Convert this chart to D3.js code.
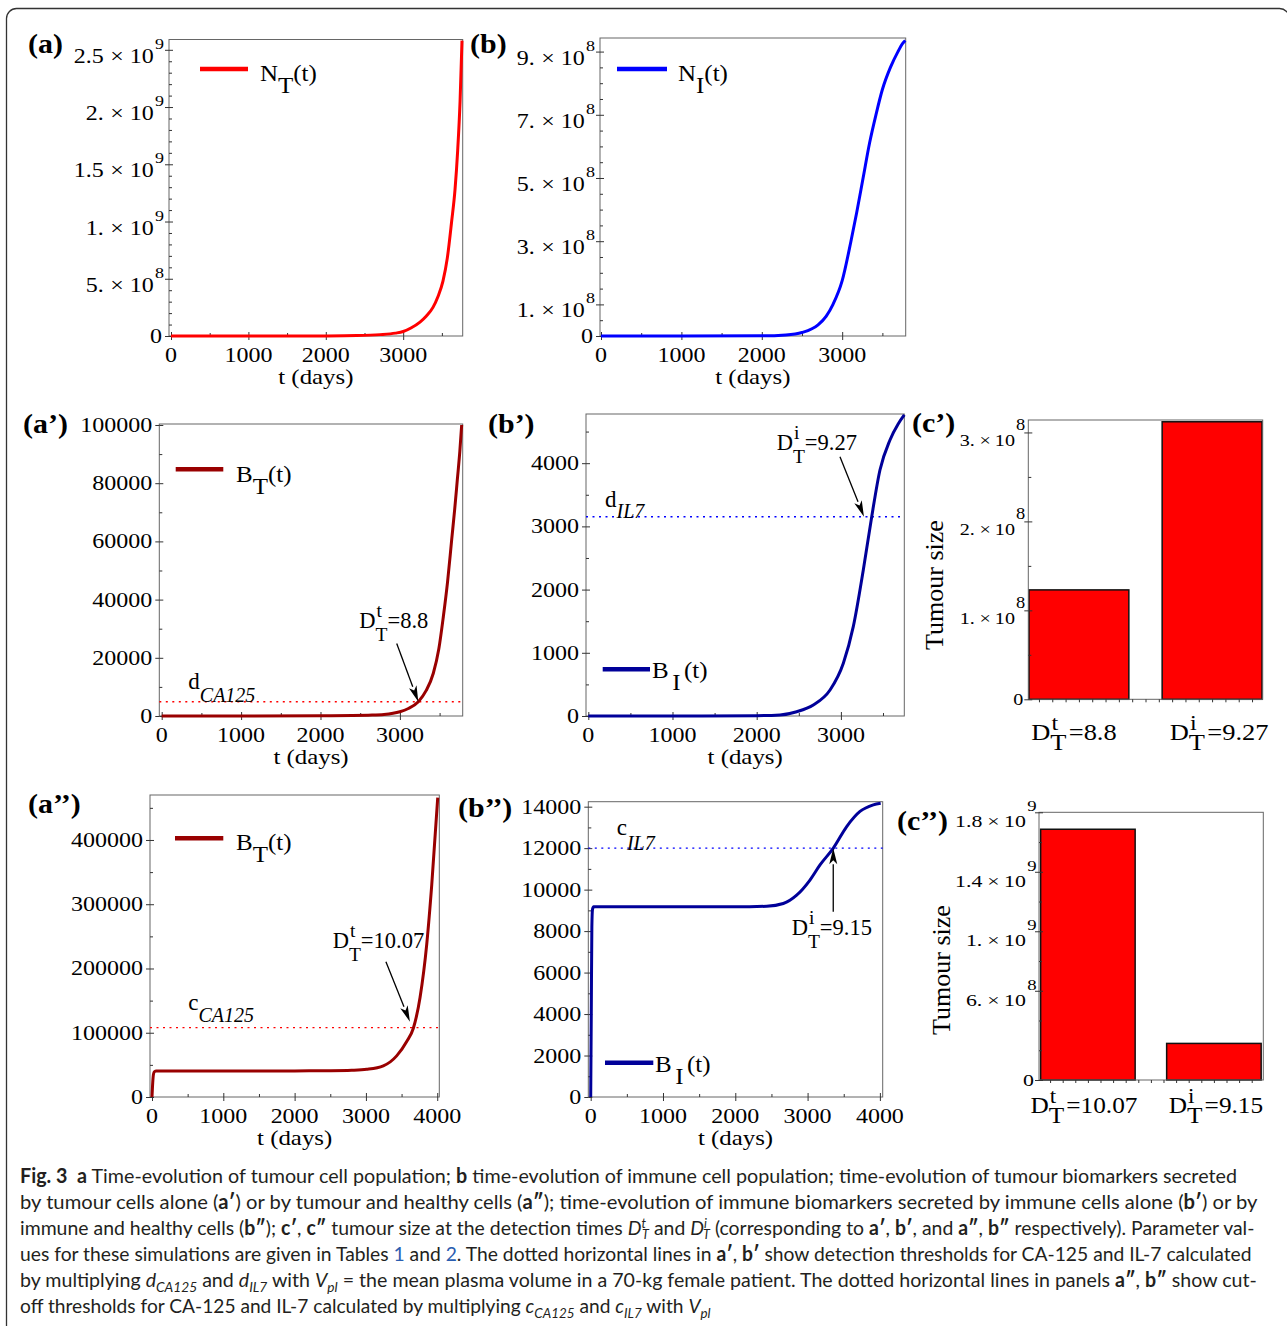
<!DOCTYPE html>
<html>
<head>
<meta charset="utf-8">
<script src="https://cdn.jsdelivr.net/npm/d3@7"></script>
<style>
  body { margin: 0; background: #fff; }
  svg { display: block; }
  text { white-space: pre; }
</style>
</head>
<body>
<div id="fig"></div>
<script>
var W = 1287, H = 1326;
var SERIF = "'Liberation Serif','Times New Roman',serif";
var SANS = "Lato,'Open Sans','DejaVu Sans Condensed',sans-serif";

// ---- values ----
// (a) tumour cells N_T(t)
var tA = [0, 500, 1000, 1500, 2000, 2400, 2700, 2900, 3000, 3100, 3217, 3300, 3385, 3450, 3514, 3570, 3626, 3670, 3704, 3735, 3760];
var NT = [0, 0, 0, 0, 1e6, 4e6, 1.2e7, 2.5e7, 3.9e7, 7.0e7, 1.22e8, 1.75e8, 2.5e8, 3.45e8, 4.8e8, 6.8e8, 1.0e9, 1.28e9, 1.62e9, 2.05e9, 2.58e9];
// (b) immune cells N_I(t)
var tB = [0, 1000, 2000, 2300, 2500, 2700, 2800, 2886, 3000, 3109, 3180, 3260, 3340, 3420, 3500, 3600, 3694, 3750, 3785];
var NI = [0, 0, 5e5, 3.3e6, 1.1e7, 3.5e7, 6.2e7, 1.0e8, 1.75e8, 3.0e8, 3.9e8, 5.0e8, 6.1e8, 7.0e8, 7.8e8, 8.5e8, 9.0e8, 9.25e8, 9.35e8];
// (a') tumour biomarker B_T(t), tumour cells alone
var tA1 = [0, 1000, 2000, 2400, 2600, 2800, 3000, 3100, 3232, 3330, 3421, 3490, 3547, 3600, 3652, 3690, 3723, 3755, 3778];
var BT1 = [0, 0, 50, 150, 300, 550, 1480, 2500, 4900, 8700, 14700, 23000, 34100, 46000, 60500, 71000, 81100, 91000, 100000];
// (b') immune biomarker B_I(t), immune cells alone
var tB1 = [0, 1000, 2000, 2277, 2475, 2672, 2871, 3029, 3147, 3266, 3366, 3464, 3583, 3680, 3753];
var BI1 = [0, 0, 5, 16, 68, 174, 411, 834, 1413, 2310, 3153, 3892, 4367, 4620, 4763];
// (a'') tumour biomarker with healthy cells
var tA2 = [0, 10, 20, 35, 60, 1000, 2000, 2500, 2800, 3011, 3244, 3431, 3572, 3665, 3759, 3853, 3923, 4007];
var BT2 = [0, 22000, 35000, 39500, 40500, 40500, 40600, 40900, 41600, 43100, 48500, 64000, 86500, 107000, 155000, 238000, 330000, 466000];
// (b'') immune biomarker with healthy cells
var tB2 = [0, 8, 16, 25, 40, 1000, 2000, 2434, 2664, 2849, 3033, 3172, 3356, 3541, 3725, 3909, 4011];
var BI2 = [0, 4000, 8200, 9050, 9170, 9170, 9170, 9200, 9330, 9730, 10460, 11190, 12000, 13040, 13770, 14090, 14170];

// thresholds
var dCA125 = 4900, dIL7 = 3153, cCA125 = 108000, cIL7 = 12000;

// tumour size at detection times
var c1Sup = ["t", "i"], c1Val = ["8.8", "9.27"], c1Size = [1.23e8, 3.12e8];
var c2Sup = ["t", "i"], c2Val = ["10.07", "9.15"], c2Size = [1.686e9, 0.246e9];

// tick values / labels
var xTicks3 = [0, 1000, 2000, 3000], xTicks4 = [0, 1000, 2000, 3000, 4000];
var aYTicks = [0, 5e8, 1e9, 1.5e9, 2e9, 2.5e9];
var aYLabels = ["0", "5.|8", "1.|9", "1.5|9", "2.|9", "2.5|9"];
var bYTicks = [0, 1e8, 3e8, 5e8, 7e8, 9e8];
var bYLabels = ["0", "1.|8", "3.|8", "5.|8", "7.|8", "9.|8"];
var a1YTicks = [0, 20000, 40000, 60000, 80000, 100000];
var b1YTicks = [0, 1000, 2000, 3000, 4000];
var a2YTicks = [0, 100000, 200000, 300000, 400000];
var b2YTicks = [0, 2000, 4000, 6000, 8000, 10000, 12000, 14000];
var c1YTicks = [0, 1e8, 2e8, 3e8];
var c1YLabels = ["0", "1.|8", "2.|8", "3.|8"];
var c2YTicks = [0, 6e8, 1e9, 1.4e9, 1.8e9];
var c2YLabels = ["0", "6.|8", "1.|9", "1.4|9", "1.8|9"];

var svg = d3.select("#fig").append("svg")
    .attr("width", W)
    .attr("height", H);

// text with sub/superscript parts
function rich(g, x, y, parts, o) {
    o = o || {};
    var t = g.append("text")
        .attr("transform", `translate(${x},${y}) scale(${o.sx || 1},1)` + (o.rot ? ` rotate(${o.rot})` : ""))
        .attr("font-family", o.family || SERIF)
        .attr("font-size", o.size || 20)
        .attr("text-anchor", o.anchor || "start")
        .attr("fill", o.fill || "#000");
    if (o.weight) t.attr("font-weight", o.weight);
    var cur = 0;
    parts.forEach(function (p) {
        if (typeof p === "string") p = { t: p };
        var off = p.off || 0;
        var s = t.append("tspan").text(p.t).attr("dy", off - cur);
        cur = off;
        if (p.dx) s.attr("dx", p.dx);
        if (p.size) s.attr("font-size", p.size);
        if (p.it) s.attr("font-style", "italic");
        if (p.b) s.attr("font-weight", "bold");
        if (p.fill) s.attr("fill", p.fill);
    });
    return t;
}

function tickMarks(g, axisFn, scale, vals, size, pos) {
    var a = g.append("g")
        .attr("transform", axisFn === d3.axisLeft ? `translate(${pos},0)` : `translate(0,${pos})`)
        .call(axisFn(scale).tickValues(vals).tickSizeInner(size).tickSizeOuter(0).tickFormat(""));
    a.select(".domain").remove();
    a.selectAll("line").attr("stroke", "#333");
}

// "m|e" -> m × 10^e
function yLabel(g, x, y, lab, o) {
    var s = lab.split("|");
    if (s.length === 1) {
        rich(g, x - o.gap0, y + o.off0, [s[0]], { size: o.size, sx: o.sx, anchor: "end" });
    } else {
        rich(g, x - o.gap, y + o.off, [s[0], { t: "\u00d7", dx: o.g1 }, { t: "10", dx: o.g2 },
            { t: s[1], off: -o.raise, size: o.supSize, dx: 1 }],
            { size: o.size, sx: o.sx, anchor: "end" });
    }
}

function arrow(g, x1, y1, x2, y2) {
    var ang = Math.atan2(y2 - y1, x2 - x1), L = 16, w = 4;
    var bx = x2 - L * Math.cos(ang), by = y2 - L * Math.sin(ang);
    g.append("line").attr("x1", x1).attr("y1", y1).attr("x2", bx).attr("y2", by)
        .attr("stroke", "#000").attr("stroke-width", 1.3);
    var px = -Math.sin(ang) * w, py = Math.cos(ang) * w;
    g.append("path")
        .attr("d", `M${x2},${y2}L${bx + px},${by + py}L${bx + 4 * Math.cos(ang)},${by + 4 * Math.sin(ang)}L${bx - px},${by - py}Z`)
        .attr("fill", "#000");
}

// D with stacked sup/sub, then "=value"
function dtParts(sup, val, supSize, subSize, supOff, subOff, gapEq) {
    return ["D", { t: sup, off: supOff, size: supSize, dx: 1 },
        { t: "T", off: subOff, size: subSize, dx: -supSize * 0.278 - 1 },
        { t: "=" + val, dx: gapEq || 0 }];
}

function linePanel(p) {
    var g = svg.append("g");
    var x = d3.scaleLinear().domain([0, p.xmax]).range([p.x0, p.r]);
    var y = d3.scaleLinear().domain([0, p.ymax]).range([p.b, p.t]);

    g.append("rect").attr("x", p.l).attr("y", p.t)
        .attr("width", p.r - p.l).attr("height", p.b - p.t)
        .attr("fill", "none").attr("stroke", "#666").attr("stroke-width", 1);

    tickMarks(g, d3.axisBottom, x, p.xTicks, 4, p.b);
    tickMarks(g, d3.axisBottom, x, p.xTicks, -4, p.b);
    tickMarks(g, d3.axisBottom, x, p.xMinor, -3, p.b);
    tickMarks(g, d3.axisLeft, y, p.yTicks, 4, p.l);
    tickMarks(g, d3.axisLeft, y, p.yTicks, -4, p.l);
    tickMarks(g, d3.axisLeft, y, p.yMinor, -3, p.l);

    p.xTicks.forEach(function (v) {
        rich(g, x(v), p.b + 25.5, [String(v)], { size: 20, sx: 1.2, anchor: "middle" });
    });
    p.yTicks.forEach(function (v, i) {
        var lab = p.yLabels ? p.yLabels[i] : String(v);
        yLabel(g, p.l, y(v), lab, { size: 20, sx: 1.2, gap0: 7, off0: 7, gap: 5, off: 13, raise: 14, supSize: 15, g1: 5.5, g2: 5 });
    });
    rich(g, (p.l + p.r) / 2, p.b + 48, ["t (days)"], { size: 22, sx: 1.13, anchor: "middle" });

    if (p.thr !== undefined) {
        g.append("line").attr("x1", p.l).attr("x2", p.r)
            .attr("y1", y(p.thr)).attr("y2", y(p.thr))
            .attr("stroke", p.thrColor).attr("stroke-width", 1.4)
            .attr("stroke-dasharray", "2,4.5");
        rich(g, p.thrLab.x, p.thrLab.y, [p.thrLab.main, { t: p.thrLab.sub, off: p.thrLab.off, it: true, size: 20 }], { size: 23 });
    }

    var line = d3.line().x(d => x(d[0])).y(d => y(d[1])).curve(d3.curveMonotoneX);
    g.append("path").datum(d3.zip(p.tv, p.yv))
        .attr("d", line)
        .attr("fill", "none").attr("stroke", p.color).attr("stroke-width", 3);

    // legend
    g.append("line").attr("x1", p.leg.x1).attr("x2", p.leg.x2)
        .attr("y1", p.leg.y).attr("y2", p.leg.y)
        .attr("stroke", p.color).attr("stroke-width", 4.5);
    rich(g, p.leg.tx, p.leg.ty, [p.leg.main, { t: p.leg.sub, off: 12, dx: p.leg.sdx || 0 }, { t: "(t)", dx: p.leg.pdx || 0 }],
        { size: 24, sx: 1.04 });

    // detection-time annotation
    if (p.ann) {
        var tx = x(p.ann.t), ty = y(p.ann.v);
        arrow(g, tx + p.ann.dx, ty + p.ann.dy, tx, ty);
        rich(g, p.ann.lx, p.ann.ly, dtParts(p.ann.sup, p.ann.val, 19.5, 19.5, -11, 13), { size: 22.5 });
    }

    rich(g, p.title.x, p.title.y, [p.title.t], { size: 28, sx: 1.07, weight: "bold" });
}

function barPanel(p) {
    var g = svg.append("g");
    var x = d3.scaleLinear().domain(p.xd).range([p.l, p.r]);
    var y = d3.scaleLinear().domain([0, p.ymax]).range([p.b, p.t]);

    g.selectAll("rect.bar").data(p.vals).enter().append("rect")
        .attr("class", "bar")
        .attr("x", (d, i) => x(i + 1 - 0.375))
        .attr("width", x(1.375) - x(0.625))
        .attr("y", d => y(d))
        .attr("height", d => p.b - y(d))
        .attr("fill", "#ff0000").attr("stroke", "#111").attr("stroke-width", 1.5);

    g.append("rect").attr("x", p.l).attr("y", p.t)
        .attr("width", p.r - p.l).attr("height", p.b - p.t)
        .attr("fill", "none").attr("stroke", "#666").attr("stroke-width", 1);

    tickMarks(g, d3.axisBottom, x, d3.range(0.7, 2.35, 0.1), 3, p.b);
    tickMarks(g, d3.axisLeft, y, p.yTicks, 4, p.l);
    tickMarks(g, d3.axisLeft, y, p.yTicks, -4, p.l);
    tickMarks(g, d3.axisLeft, y, p.yMinor, -3, p.l);

    p.yTicks.forEach(function (v, i) {
        yLabel(g, p.l, y(v), p.yLabels[i], p.lab);
    });

    p.sups.forEach(function (s, i) {
        rich(g, x(i + 1) + p.labDx[i], p.labY, dtParts(s, p.labs[i], 21, 23, -10, 10, 2),
            { size: 23, sx: p.labSx, anchor: "middle" });
    });

    rich(g, p.ylab.x, p.ylab.y, ["Tumour size"], { size: 26, anchor: "middle", rot: -90 });
    rich(g, p.title.x, p.title.y, [p.title.t], { size: 28, sx: 1.07, weight: "bold" });
}

// outer frame
svg.append("rect").attr("x", 6.5).attr("y", 8.5).attr("width", 1283).attr("height", 1400)
    .attr("rx", 10).attr("fill", "none").attr("stroke", "#333").attr("stroke-width", 1.3);

linePanel({
    l: 169, r: 462.7, t: 39.5, b: 336, x0: 171, xmax: 3769, ymax: 2.59e9,
    xTicks: xTicks3, xMinor: [500, 1500, 2500, 3500],
    yTicks: aYTicks, yLabels: aYLabels, yMinor: d3.range(1e8, 2.59e9, 1e8).filter(v => v % 5e8 !== 0),
    tv: tA, yv: NT, color: "#ff0000",
    leg: { x1: 200, x2: 248, y: 69, tx: 260, ty: 81, main: "N", sub: "T" },
    title: { x: 28, y: 53, t: "(a)" }
});

linePanel({
    l: 600, r: 905.7, t: 38, b: 336, x0: 601, xmax: 3790, ymax: 9.43e8,
    xTicks: xTicks3, xMinor: [500, 1500, 2500, 3500],
    yTicks: bYTicks, yLabels: bYLabels, yMinor: [5e7, 1.5e8, 2e8, 2.5e8, 3.5e8, 4e8, 4.5e8, 5.5e8, 6e8, 6.5e8, 7.5e8, 8e8, 8.5e8],
    tv: tB, yv: NI, color: "#0000ff",
    leg: { x1: 617, x2: 667, y: 69, tx: 678, ty: 81, main: "N", sub: "I" },
    title: { x: 470, y: 53, t: "(b)" }
});

linePanel({
    l: 159.3, r: 462.7, t: 424, b: 716, x0: 161.7, xmax: 3791, ymax: 100340,
    xTicks: xTicks3, xMinor: [500, 1500, 2500, 3500],
    yTicks: a1YTicks, yMinor: [10000, 30000, 50000, 70000, 90000],
    tv: tA1, yv: BT1, color: "#990000",
    thr: dCA125, thrColor: "#ff0000",
    thrLab: { x: 188.3, y: 689.3, main: "d", sub: "CA125", off: 12.4 },
    ann: { t: 3232, v: dCA125, dx: -21.6, dy: -58.3, lx: 359.3, ly: 628.3, sup: "t", val: "8.8" },
    leg: { x1: 175.7, x2: 223.3, y: 469.3, tx: 236, ty: 481.7, main: "B", sub: "T" },
    title: { x: 23, y: 433, t: "(a\u2019)" }
});

linePanel({
    l: 586, r: 904.3, t: 414, b: 716, x0: 588.3, xmax: 3753, ymax: 4778,
    xTicks: xTicks3, xMinor: [500, 1500, 2500, 3500],
    yTicks: b1YTicks, yMinor: [500, 1500, 2500, 3500, 4500],
    tv: tB1, yv: BI1, color: "#000099",
    thr: dIL7, thrColor: "#0000ff",
    thrLab: { x: 605, y: 506.7, main: "d", sub: "IL7", off: 11.6 },
    ann: { t: 3274, v: dIL7, dx: -24, dy: -60, lx: 776.7, ly: 450, sup: "i", val: "9.27" },
    leg: { x1: 602.7, x2: 650, y: 669.3, tx: 652, ty: 678, main: "B", sub: "I", sdx: 3.4, pdx: 3.3 },
    title: { x: 488, y: 433, t: "(b\u2019)" }
});

linePanel({
    l: 150, r: 439.3, t: 795, b: 1097, x0: 152, xmax: 4029, ymax: 470000,
    xTicks: xTicks4, xMinor: [500, 1500, 2500, 3500],
    yTicks: a2YTicks, yMinor: [50000, 150000, 250000, 350000, 450000],
    tv: tA2, yv: BT2, color: "#990000",
    thr: cCA125, thrColor: "#ff0000",
    thrLab: { x: 188.3, y: 1010, main: "c", sub: "CA125", off: 11.7 },
    ann: { t: 3617, v: 117200, dx: -24, dy: -60, lx: 332.7, ly: 948.3, sup: "t", val: "10.07" },
    leg: { x1: 175, x2: 223.3, y: 838.3, tx: 236, ty: 850, main: "B", sub: "T" },
    title: { x: 28, y: 813, t: "(a\u2019\u2019)" }
});

linePanel({
    l: 588.3, r: 882.7, t: 801.7, b: 1097, x0: 590.7, xmax: 4039, ymax: 14240,
    xTicks: xTicks4, xMinor: [500, 1500, 2500, 3500],
    yTicks: b2YTicks, yMinor: [1000, 3000, 5000, 7000, 9000, 11000, 13000],
    tv: tB2, yv: BI2, color: "#000099",
    thr: cIL7, thrColor: "#0000ff",
    thrLab: { x: 616.7, y: 835, main: "c", sub: "IL7", off: 15 },
    ann: { t: 3355, v: 11990, dx: 0, dy: 63.4, lx: 791.7, ly: 935, sup: "i", val: "9.15" },
    leg: { x1: 605, x2: 653.3, y: 1062.7, tx: 655, ty: 1071.7, main: "B", sub: "I", sdx: 3.4, pdx: 3.3 },
    title: { x: 458, y: 817, t: "(b\u2019\u2019)" }
});

barPanel({
    l: 1028.3, r: 1262.7, t: 420, b: 699.3, xd: [0.62, 2.38], ymax: 3.14e8,
    vals: c1Size, sups: c1Sup, labs: c1Val, labDx: [-5, 7], labY: 740, labSx: 1.15,
    yTicks: c1YTicks, yLabels: c1YLabels, yMinor: [5e7, 1.5e8, 2.5e8],
    lab: { size: 17.5, sx: 1.15, gap0: 5, off0: 6, gap: 3, off: 14, raise: 16, supSize: 16, g1: 4, g2: 3.5 },
    ylab: { x: 943, y: 585 },
    title: { x: 912, y: 432, t: "(c\u2019)" }
});

barPanel({
    l: 1039, r: 1263.3, t: 812.3, b: 1080, xd: [0.612, 2.392], ymax: 1.8e9,
    vals: c2Size, sups: c2Sup, labs: c2Val, labDx: [-4, 2], labY: 1113, labSx: 1.1,
    yTicks: c2YTicks, yLabels: c2YLabels, yMinor: [2e8, 4e8, 8e8, 1.2e9, 1.6e9],
    lab: { size: 17.5, sx: 1.25, gap0: 5, off0: 6, gap: 2.5, off: 15, raise: 16, supSize: 15, g1: 4, g2: 3.5 },
    ylab: { x: 950, y: 970 },
    title: { x: 897, y: 830, t: "(c\u2019\u2019)" }
});

// ---- caption ----
function B(s) { return { t: s, b: true }; }
function I(s) { return { t: s, it: true }; }
function SUB(s) { return { t: s, it: true, off: 5, size: 14 }; }
function SUPT(s) { return { t: s, it: true, off: -7, size: 13 }; }
function SUBT(s) { return { t: s, it: true, off: 4, size: 13, dx: -4 }; }
var BLUE = "#2a5db0";

var captionLines = [
    [B("Fig. 3"), B("  a"), " Time-evolution of tumour cell population; ", B("b"), " time-evolution of immune cell population; time-evolution of tumour biomarkers secreted"],
    ["by tumour cells alone (", B("a\u2032"), ") or by tumour and healthy cells (", B("a\u2033"), "); time-evolution of immune biomarkers secreted by immune cells alone (", B("b\u2032"), ") or by"],
    ["immune and healthy cells (", B("b\u2033"), "); ", B("c\u2032"), ", ", B("c\u2033"), " tumour size at the detection times ", I("D"), SUPT("t"), SUBT("T"), " and ", I("D"), SUPT("i"), SUBT("T"),
        " (corresponding to ", B("a\u2032"), ", ", B("b\u2032"), ", and ", B("a\u2033"), ", ", B("b\u2033"), " respectively). Parameter val-"],
    ["ues for these simulations are given in Tables ", { t: "1", fill: BLUE }, " and ", { t: "2", fill: BLUE }, ". The dotted horizontal lines in ", B("a\u2032"), ", ", B("b\u2032"), " show detection thresholds for CA-125 and IL-7 calculated"],
    ["by multiplying ", I("d"), SUB("CA125"), " and ", I("d"), SUB("IL7"), " with ", I("V"), SUB("pl"), " = the mean plasma volume in a 70-kg female patient. The dotted horizontal lines in panels ", B("a\u2033"), ", ", B("b\u2033"), " show cut-"],
    ["off thresholds for CA-125 and IL-7 calculated by multiplying ", I("c"), SUB("CA125"), " and ", I("c"), SUB("IL7"), " with ", I("V"), SUB("pl")]
];
var captionLen = [1217, 1238, 1242, 1233, 1237, 691];

captionLines.forEach(function (parts, i) {
    var y = 1183 + 26 * i;
    var t = rich(svg, 20, y, parts, { family: SANS, size: 20, fill: "#231f20" });
    var L0 = t.node().getComputedTextLength();
    t.attr("transform", `translate(20,${y}) scale(${captionLen[i] / L0},1)`);
});
</script>
</body>
</html>
